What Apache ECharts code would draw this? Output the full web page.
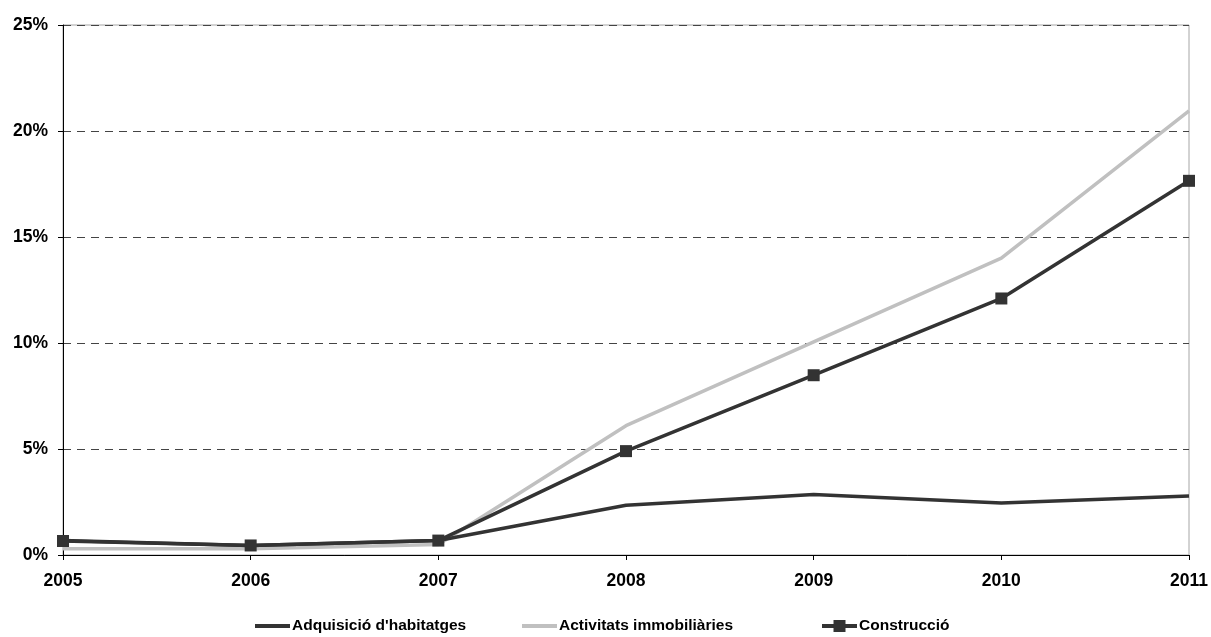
<!DOCTYPE html>
<html>
<head>
<meta charset="utf-8">
<script src="https://cdn.jsdelivr.net/npm/echarts@6/dist/echarts.min.js"></script>
<style>
  html, body { margin: 0; padding: 0; background: #ffffff; }
  #chart { width: 1211px; height: 637px; }
</style>
</head>
<body>
<div id="chart"></div>
<script>
// Years on the horizontal axis
const years = ['2005', '2006', '2007', '2008', '2009', '2010', '2011'];

// Share (%) per sector and year
const adquisicio = [0.68, 0.45, 0.68, 2.35, 2.85, 2.45, 2.78];
const activitats = [0.30, 0.30, 0.50, 6.10, 10.05, 14.00, 20.95];
const construccio = [0.66, 0.45, 0.68, 4.90, 8.48, 12.10, 17.65];

// Series names shown in the legend
const names = ["Adquisició d'habitatges", 'Activitats immobiliàries', 'Construcció'];

const DARK = '#333333';
const LIGHT = '#c0c0c0';
const FONT = '"Liberation Sans", Arial, sans-serif';

const legendText = { fontFamily: FONT, fontWeight: 'bold', fontSize: 15.5, color: '#000' };
function legendFor(name, left, hideSymbol) {
  return {
    data: [name],
    left: left,
    top: 618,
    itemWidth: 35,
    itemHeight: 15,
    itemGap: 0,
    padding: 0,
    textStyle: Object.assign({ padding: [0, 0, 0, -3] }, legendText),
    lineStyle: { width: 4 },
    itemStyle: hideSymbol ? { opacity: 0 } : {},
    selectedMode: false
  };
}

const chart = echarts.init(document.getElementById('chart'), null, { renderer: 'canvas' });

chart.setOption({
  animation: false,
  backgroundColor: '#ffffff',
  grid: {
    left: 63, right: 22, top: 25, bottom: 82,
    show: true, borderColor: '#a6a6a6', borderWidth: 1, backgroundColor: 'transparent'
  },
  legend: [
    legendFor(names[0], 253, true),
    legendFor(names[1], 520, true),
    legendFor(names[2], 820, false)
  ],
  xAxis: {
    type: 'category',
    data: years,
    boundaryGap: false,
    axisLine: { lineStyle: { color: '#000', width: 1 } },
    axisTick: { show: true, length: 5, lineStyle: { color: '#000' } },
    axisLabel: { fontFamily: FONT, fontWeight: 'bold', fontSize: 17.5, color: '#000', margin: 17 },
    splitLine: { show: false }
  },
  yAxis: {
    type: 'value',
    min: 0, max: 25, interval: 5,
    axisLine: { show: true, lineStyle: { color: '#000', width: 1 } },
    axisTick: { show: true, length: 5, lineStyle: { color: '#000' } },
    axisLabel: {
      fontFamily: FONT, fontWeight: 'bold', fontSize: 17.5, color: '#000', margin: 15,
      formatter: v => v + '%'
    },
    splitLine: { show: true, lineStyle: { color: '#444', type: [8, 6], width: 1 } }
  },
  series: [
    {
      name: names[0], type: 'line', data: adquisicio, z: 3,
      symbol: 'none', lineStyle: { color: DARK, width: 3.5 }, itemStyle: { color: DARK }
    },
    {
      name: names[1], type: 'line', data: activitats, z: 2,
      symbol: 'none', lineStyle: { color: LIGHT, width: 3.5 }, itemStyle: { color: LIGHT }
    },
    {
      name: names[2], type: 'line', data: construccio, z: 4,
      symbol: 'rect', symbolSize: 12, showAllSymbol: true,
      lineStyle: { color: DARK, width: 3.5 }, itemStyle: { color: DARK }
    }
  ]
});
</script>
</body>
</html>
